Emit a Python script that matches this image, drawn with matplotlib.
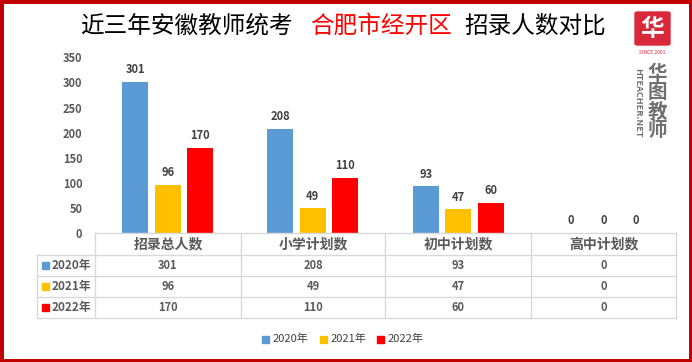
import matplotlib.pyplot as plt
from matplotlib.patches import Rectangle, FancyBboxPatch
import numpy as np

plt.rcParams['font.family'] = ['Noto Sans CJK SC', 'DejaVu Sans']

categories = ['招录总人数', '小学计划数', '初中计划数', '高中计划数']
years = ['2020年', '2021年', '2022年']
v2020 = [301, 208, 93, 0]
v2021 = [96, 49, 47, 0]
v2022 = [170, 110, 60, 0]
series = [v2020, v2021, v2022]
colors = ['#5B9BD5', '#FFC000', '#FF0000']
yticks = [0, 50, 100, 150, 200, 250, 300, 350]

W, H = 692, 362
fig = plt.figure(figsize=(W / 100, H / 100), dpi=100)


def fx(px):
    return px / W


def fy(py):
    return 1 - py / H


# plot area
x0, x1, ytop, ybot = 95, 676, 57.4, 233
ax = fig.add_axes([fx(x0), fy(ybot), fx(x1 - x0), fy(ytop) - fy(ybot)])
x = np.arange(len(categories))
bw = 0.18
pitch = 0.224
txt = '#404040'
for i, (vals, c) in enumerate(zip(series, colors)):
    pos = x + (i - 1) * pitch
    ax.bar(pos, vals, width=bw, color=c, zorder=2)
    for p, v in zip(pos, vals):
        ax.text(p, v + 11, str(v), ha='center', va='bottom', fontsize=8,
                fontweight='bold', color=txt)
ax.set_xlim(-0.5, len(categories) - 0.5)
ax.set_ylim(0, 350)
ax.set_yticks(yticks)
ax.set_yticklabels([str(t) for t in yticks], fontsize=8, fontweight='bold', color='#595959')
ax.tick_params(axis='y', length=0, pad=9)
ax.set_xticks([])
for s in ax.spines.values():
    s.set_visible(False)

# data table
grid = '#D9D9D9'
col_edges = [95, 241, 385, 531, 676]
row_edges = [233, 255, 276, 297, 318]
lbl_left = 37
fig.add_artist(plt.Line2D([fx(95), fx(676)], [fy(233), fy(233)], color=grid, lw=1))
for r in row_edges[1:]:
    fig.add_artist(plt.Line2D([fx(lbl_left), fx(676)], [fy(r), fy(r)], color=grid, lw=1))
for c in col_edges:
    fig.add_artist(plt.Line2D([fx(c), fx(c)], [fy(233), fy(318)], color=grid, lw=1))
fig.add_artist(plt.Line2D([fx(lbl_left), fx(lbl_left)], [fy(255), fy(318)], color=grid, lw=1))

for j, cat in enumerate(categories):
    cx = (col_edges[j] + col_edges[j + 1]) / 2
    fig.text(fx(cx), fy((row_edges[0] + row_edges[1]) / 2), cat, ha='center', va='center',
             fontsize=10, fontweight='bold', color='#595959')
    for i, vals in enumerate(series):
        cy = (row_edges[i + 1] + row_edges[i + 2]) / 2
        fig.text(fx(cx), fy(cy), str(vals[j]), ha='center', va='center',
                 fontsize=8, fontweight='bold', color='#595959')
for i, (yr, c) in enumerate(zip(years, colors)):
    cy = (row_edges[i + 1] + row_edges[i + 2]) / 2
    fig.add_artist(Rectangle((fx(42), fy(cy + 3.5)), fx(7), fy(0) - fy(7), color=c,
                             transform=fig.transFigure))
    fig.text(fx(52), fy(cy), yr, ha='left', va='center', fontsize=8.5,
             fontweight='bold', color='#595959')

# legend
leg_x = [262, 320, 377]
for lx, yr, c in zip(leg_x, years, colors):
    fig.add_artist(Rectangle((fx(lx), fy(342.5)), fx(7), fy(0) - fy(7), color=c,
                             transform=fig.transFigure))
    fig.text(fx(lx + 11), fy(339), yr, ha='left', va='center', fontsize=8,
             color='#404040')

# title
fig.text(fx(80), fy(26), '近三年安徽教师统考', ha='left', va='center', fontsize=17,
         fontweight='medium', color='black')
fig.text(fx(310), fy(26), '合肥市经开区', ha='left', va='center', fontsize=17,
         fontweight='medium', color='#FF0000')
fig.text(fx(464), fy(26), '招录人数对比', ha='left', va='center', fontsize=17,
         fontweight='medium', color='black')

# logo
fig.add_artist(FancyBboxPatch((fx(635), fy(45)), fx(35), fy(0) - fy(33),
                              boxstyle='round,pad=0,rounding_size=0.004',
                              color='#D9283A', transform=fig.transFigure))
fig.text(fx(652.5), fy(28.5), '华', ha='center', va='center', fontsize=17,
         fontweight='bold', color='white')
fig.text(fx(652.5), fy(52), 'SINCE 2001', ha='center', va='center', fontsize=3.6,
         color='#D9283A')
for k, ch in enumerate('华图教师'):
    fig.text(fx(657), fy(74 + k * 19), ch, ha='center', va='center', fontsize=14,
             fontweight='bold', color='#707070')
fig.text(fx(638), fy(103), 'HTEACHER.NET', ha='center', va='center', fontsize=6.5,
         rotation=-90, color='#707070', fontweight='bold')

# red border
border = '#C00000'
fig.add_artist(Rectangle((0, 0), 1, 1, fill=False, lw=5, edgecolor=border,
                         transform=fig.transFigure))

fig.savefig('out.png', dpi=100)
